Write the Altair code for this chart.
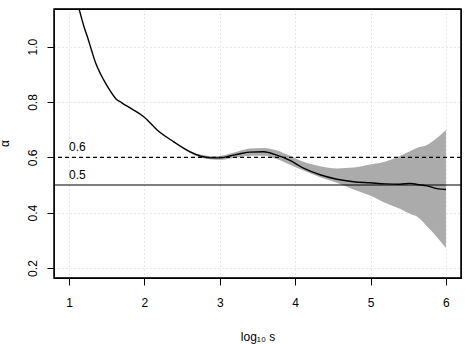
import altair as alt
import pandas as pd

# central estimate of alpha vs log10 s
line_x = [1.10, 1.133, 1.20, 1.243, 1.30, 1.354, 1.42, 1.487, 1.55, 1.62, 1.70, 1.82,
          1.995, 2.164, 2.384, 2.606, 2.75, 2.90, 3.0, 3.137, 3.27, 3.40, 3.58, 3.757,
          3.93, 4.11, 4.33, 4.553, 4.774, 4.995, 5.20, 5.39, 5.53, 5.62, 5.75, 5.88, 6.0]
line_y = [1.170, 1.136, 1.070, 1.036, 0.985, 0.940, 0.900, 0.866, 0.838, 0.812, 0.797, 0.777,
          0.746, 0.700, 0.657, 0.620, 0.604, 0.598, 0.598, 0.605, 0.613, 0.619, 0.620, 0.608,
          0.589, 0.561, 0.537, 0.521, 0.512, 0.508, 0.504, 0.503, 0.506, 0.502, 0.497, 0.487, 0.484]

# uncertainty band
band_x = [2.384, 2.606, 2.75, 2.90, 3.0, 3.137, 3.27, 3.40, 3.58, 3.757, 3.93, 4.11, 4.33,
          4.553, 4.774, 4.995, 5.20, 5.39, 5.53, 5.62, 5.75, 5.88, 6.0]
band_lo = [0.654, 0.616, 0.599, 0.592, 0.591, 0.596, 0.602, 0.606, 0.606, 0.594, 0.573, 0.552,
           0.528, 0.508, 0.484, 0.462, 0.435, 0.414, 0.395, 0.385, 0.350, 0.312, 0.272]
band_hi = [0.660, 0.624, 0.609, 0.604, 0.605, 0.614, 0.624, 0.632, 0.634, 0.625, 0.606, 0.584,
           0.568, 0.560, 0.563, 0.574, 0.585, 0.605, 0.623, 0.635, 0.645, 0.670, 0.699]

# reference lines
ref_vals = [0.6, 0.5]
ref_labels = ["0.6", "0.5"]

x_ticks = [1, 2, 3, 4, 5, 6]
y_ticks = [0.2, 0.4, 0.6, 0.8, 1.0]

FONT = "Liberation Sans"
W, H = 407, 269

line_df = pd.DataFrame({"x": line_x, "y": line_y})
band_df = pd.DataFrame({"x": band_x, "lo": band_lo, "hi": band_hi})
ref_df = pd.DataFrame({"y": ref_vals, "label": ref_labels, "xt": [1, 1]})

xs = alt.Scale(domain=[0.8, 6.2], nice=False, zero=False)
ys = alt.Scale(domain=[0.164, 1.136], nice=False, zero=False)

xaxis = alt.Axis(values=x_ticks, format="d", title="log₁₀ s",
                 domain=False, ticks=True, tickSize=7, tickColor="black", tickWidth=1,
                 labelFont=FONT, labelFontSize=12, labelColor="black",
                 labelPadding=12, labelBaseline="top",
                 grid=True, gridColor="#D0D0D0", gridDash=[1, 3], gridWidth=1,
                 titleFont=FONT, titleFontSize=12, titleFontWeight="normal", titleColor="black",
                 titleBaseline="alphabetic", titleY=62)
yaxis = alt.Axis(values=y_ticks, format=".1f", title="α",
                 domain=False, ticks=True, tickSize=7, tickColor="black", tickWidth=1,
                 labelFont=FONT, labelFontSize=12, labelColor="black",
                 labelAngle=-90, labelAlign="center", labelBaseline="alphabetic",
                 labelPadding=11,
                 grid=True, gridColor="#D0D0D0", gridDash=[1, 3], gridWidth=1,
                 titleFont=FONT, titleFontSize=12, titleFontWeight="normal", titleColor="black",
                 titleAngle=-90, titleAlign="center", titleBaseline="alphabetic",
                 titleX=-46, titleY=134)

band = alt.Chart(band_df).mark_area(color="#ABABAB", opacity=1, clip=True,
                                    interpolate="monotone").encode(
    x=alt.X("x:Q", scale=xs, axis=xaxis),
    y=alt.Y("lo:Q", scale=ys, axis=yaxis),
    y2="hi:Q",
)

line = alt.Chart(line_df).mark_line(color="black", strokeWidth=1.4, clip=True,
                                    interpolate="monotone").encode(
    x=alt.X("x:Q", scale=xs),
    y=alt.Y("y:Q", scale=ys),
)

rule6 = alt.Chart(ref_df.iloc[[0]]).mark_rule(color="black", strokeWidth=1.1, strokeDash=[4, 3]).encode(
    y=alt.Y("y:Q", scale=ys))
rule5 = alt.Chart(ref_df.iloc[[1]]).mark_rule(color="black", strokeWidth=1.1).encode(
    y=alt.Y("y:Q", scale=ys))

labels = alt.Chart(ref_df).mark_text(font=FONT, fontSize=12, color="black", align="left",
                                     baseline="alphabetic", dy=-6).encode(
    x=alt.X("xt:Q", scale=xs),
    y=alt.Y("y:Q", scale=ys),
    text="label:N",
)

# plot frame (box around the plotting region)
frame = alt.Chart(pd.DataFrame({"k": [0]})).mark_rect(
    fill=None, filled=False, stroke="black", strokeWidth=1.3).encode(
    x=alt.value(0), x2=alt.value(W), y=alt.value(0), y2=alt.value(H))

chart = alt.layer(band, line, rule6, rule5, labels, frame).properties(
    width=W, height=H,
    padding={"left": 54, "top": 9, "right": 4, "bottom": 66},
    autosize=alt.AutoSizeParams(type="none"),
    background="white",
).configure_view(stroke="black", strokeWidth=1.2)

chart.save("out.html", embed_options={"renderer": "svg", "actions": False})
